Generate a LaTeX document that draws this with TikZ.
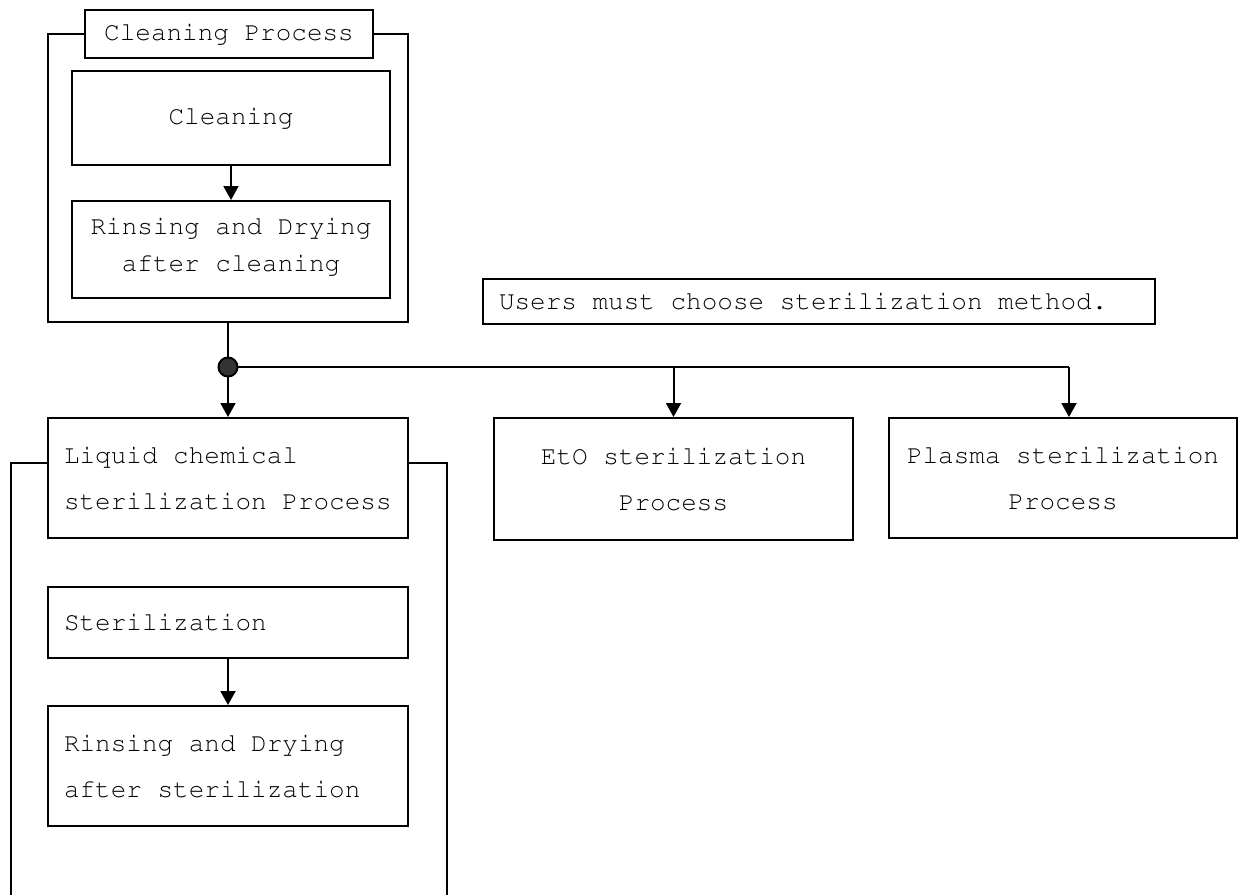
\documentclass[tikz,border=0pt]{standalone}
\usepackage[T1,TU]{fontenc}
\usepackage{xcolor}
\usepackage{tikz}
\usetikzlibrary{arrows.meta, positioning}

\newcommand{\crfont}{\fontencoding{T1}\fontfamily{pcr}\selectfont}

\begin{document}
\begin{tikzpicture}[x=1pt, y=-1pt,
			>={Triangle[width=15pt,length=14pt]},
			line width=2pt,
			stepbox/.style={draw, inner sep=0pt, align=center, font=\crfont\fontsize{26}{37}\selectfont},
			leftbox/.style={draw, inner xsep=16pt, inner ysep=0pt, align=flush left, font=\crfont\fontsize{26}{46}\selectfont},
			joint/.style={circle, draw, fill=black!80, inner sep=0pt, minimum size=19pt}]

			\useasboundingbox (0,0) rectangle (1247,895);

			% cleaning block
			\node[stepbox, minimum width=288pt, minimum height=48pt] (title) at (229,34) {Cleaning Process};
			\node[stepbox, minimum width=318pt, minimum height=94pt] (clean) at (231,118) {Cleaning};
			\node[stepbox, minimum width=318pt, minimum height=97pt] (rinse) at (231,249.5) {Rinsing and Drying\\after cleaning\\[-27pt]};
			\coordinate (cframe sw) at (48,322);
			\coordinate (cframe se) at (408,322);
			\coordinate (cframe s) at (228,322);
			\draw (title.west) -| (cframe sw) -- (cframe se) |- (title.east);
			\draw[->] (clean) -- (rinse);

			\node[leftbox, text width=640pt, minimum height=45pt] (users) at (819,301.5) {Users must choose sterilization method.};

			% sterilization methods
			\node[leftbox, text width=328pt, minimum height=120pt] (liquid) at (228,478) {Liquid chemical\\sterilization Process};
			\node[stepbox, minimum width=359pt, minimum height=122pt, font=\crfont\fontsize{26}{46}\selectfont] (eto) at (673.5,479) {EtO sterilization\\Process};
			\node[stepbox, minimum width=348pt, minimum height=120pt, font=\crfont\fontsize{26}{46}\selectfont] (plasma) at (1063,478) {Plasma sterilization\\Process};

			\node (split) at (228,367) {};
			\coordinate (ptop) at (1069,367);
			\draw (cframe s) -- (split.center);
			\draw (split.center) -- (ptop);
			\draw[->] (split.center) -- (liquid);
			\draw[->] (split.center -| eto) -- (eto);
			\draw[->] (ptop) -- (ptop |- plasma.north);
			\node[joint] (dot) at (split) {};

			% liquid chemical block
			\node[leftbox, text width=328pt, minimum height=71pt] (steril) at (228,622.5) {Sterilization};
			\node[leftbox, text width=328pt, minimum height=120pt] (rinse2) at (228,766) {Rinsing and Drying\\after sterilization};
			\draw[->] (steril) -- (rinse2);
			\coordinate (lframe nw) at (11,463);
			\coordinate (lframe ne) at (447,463);
			\draw (liquid.west |- lframe nw) -- (lframe nw) -- (lframe nw |- 0,895);
			\draw (liquid.east |- lframe ne) -- (lframe ne) -- (lframe ne |- 0,895);
		\end{tikzpicture}
\end{document}
